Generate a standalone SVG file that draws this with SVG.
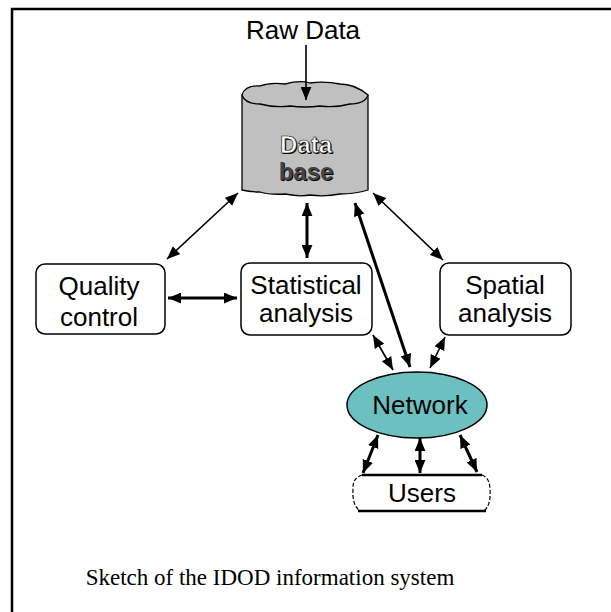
<svg xmlns="http://www.w3.org/2000/svg" width="611" height="612" viewBox="0 0 611 612">
<defs>
<style>
.box{fill:#fff;stroke:#000;stroke-width:1.5}
.lbl{font-family:"Liberation Sans",Arial,sans-serif;font-size:26px;text-anchor:middle;fill:#000}
.thin{stroke:#000;stroke-width:1.6;fill:none}
.thick{stroke:#000;stroke-width:3;fill:none}
</style>
<marker id="ah" viewBox="0 0 12 10" refX="12" refY="5" markerWidth="13" markerHeight="11" markerUnits="userSpaceOnUse" orient="auto-start-reverse">
<path d="M0,0 L12,5 L0,10 Z" fill="#000"/>
</marker>
</defs>
<rect width="611" height="612" fill="#fff"/>
<path d="M12,640 L12,9 L640,9" fill="none" stroke="#000" stroke-width="2.5"/>

<g id="raw-data">
<text class="lbl" x="303" y="39">Raw Data</text>
</g>

<g id="database">
<path d="M242,95 L242,190 Q250,192 260,192 Q270,195 285,194 Q300,197 310,195 Q325,197 340,194 Q355,194 368,190 L368,95" fill="#c0c0c0" stroke="#000" stroke-width="1.3"/>
<path d="M242,95 Q245,85 260,86 Q270,82 285,84 Q300,80 310,83 Q325,81 340,84 Q355,84 368,95 Q365,104 350,104 Q335,108 320,106 Q305,108 290,106 Q275,108 260,104 Q245,104 242,95 Z" fill="#c0c0c0" stroke="#000" stroke-width="1.3"/>
<g font-family="'Liberation Sans',Arial,sans-serif" font-size="24" font-weight="bold" text-anchor="middle">
<text x="307" y="154" fill="#000">Data</text>
<text x="306" y="153" fill="#fff" stroke="#000" stroke-width="0.6">Data</text>
<text x="307" y="181" fill="#000">base</text>
<text x="306" y="180" fill="#444">base</text>
</g>
</g>

<g id="quality-control">
<rect class="box" x="36" y="264" width="129" height="70" rx="9"/>
<text class="lbl" x="99" y="295">Quality</text>
<text class="lbl" x="99" y="326">control</text>
</g>

<g id="statistical-analysis">
<rect class="box" x="241" y="263" width="131" height="72" rx="9"/>
<text class="lbl" x="306" y="294">Statistical</text>
<text class="lbl" x="306" y="322">analysis</text>
</g>

<g id="spatial-analysis">
<rect class="box" x="440" y="263" width="131" height="72" rx="9"/>
<text class="lbl" x="505" y="294">Spatial</text>
<text class="lbl" x="505" y="322">analysis</text>
</g>

<g id="network">
<ellipse cx="417" cy="405" rx="70" ry="33" fill="#6cc0c0" stroke="#000" stroke-width="1.5"/>
<text class="lbl" x="420" y="414">Network</text>
</g>

<g id="users">
<path d="M362,475 Q352,478 353,490 Q352,505 360,511 M482,475 Q490,478 490,490 Q491,505 484,511" fill="none" stroke="#000" stroke-width="1.2" stroke-dasharray="4,2"/>
<line x1="362" y1="475" x2="482" y2="475" stroke="#000" stroke-width="2.5"/>
<line x1="358" y1="511" x2="486" y2="511" stroke="#000" stroke-width="2.5"/>
<text class="lbl" x="422" y="502">Users</text>
</g>

<g id="connectors">
<line class="thin" x1="306" y1="45" x2="306" y2="100" marker-end="url(#ah)" stroke-width="2"/>
<line class="thin" x1="238" y1="193" x2="167" y2="259" marker-start="url(#ah)" marker-end="url(#ah)"/>
<line class="thick" x1="168" y1="298" x2="237" y2="298" marker-start="url(#ah)" marker-end="url(#ah)"/>
<line class="thick" x1="307" y1="203" x2="307" y2="258" marker-start="url(#ah)" marker-end="url(#ah)"/>
<line class="thick" x1="355" y1="203" x2="410" y2="367" marker-start="url(#ah)" marker-end="url(#ah)" stroke-width="2.5"/>
<line class="thin" x1="373" y1="193" x2="443" y2="260" marker-start="url(#ah)" marker-end="url(#ah)"/>
<line class="thin" x1="373" y1="335" x2="393" y2="370" marker-start="url(#ah)" marker-end="url(#ah)"/>
<line class="thin" x1="445" y1="337" x2="430" y2="368" marker-start="url(#ah)" marker-end="url(#ah)"/>
<line class="thick" x1="378" y1="435" x2="363" y2="473" marker-start="url(#ah)" marker-end="url(#ah)" stroke-width="2.2"/>
<line class="thick" x1="420" y1="438" x2="420" y2="473" marker-start="url(#ah)" marker-end="url(#ah)" stroke-width="2.2"/>
<line class="thick" x1="460" y1="435" x2="477" y2="472" marker-start="url(#ah)" marker-end="url(#ah)" stroke-width="2.2"/>
</g>

<g id="caption">
<text x="270" y="585" font-family="'Liberation Serif','Times New Roman',serif" font-size="23" text-anchor="middle">Sketch of the IDOD information system</text>
</g>
</svg>
